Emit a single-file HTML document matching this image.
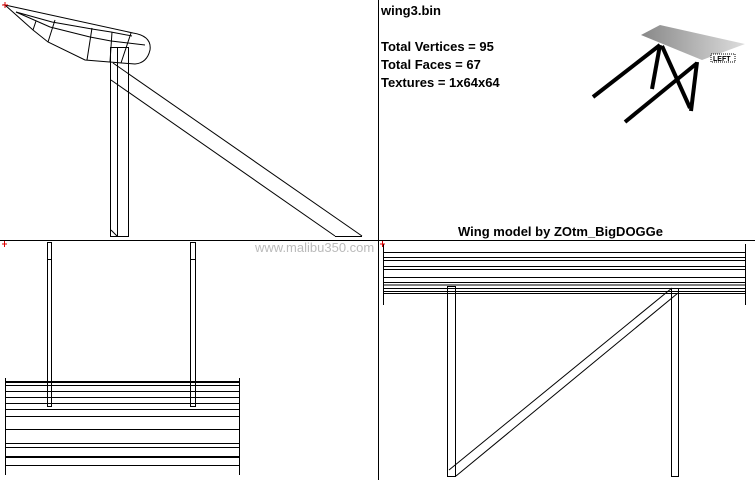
<!DOCTYPE html>
<html><head><meta charset="utf-8"><style>
html,body{margin:0;padding:0;background:#fff;width:755px;height:480px;overflow:hidden}
svg{display:block}
text{font-family:"Liberation Sans",sans-serif;font-weight:bold;fill:#000}
</style></head><body>
<svg width="755" height="480" viewBox="0 0 755 480" xmlns="http://www.w3.org/2000/svg">
<g stroke="#000" fill="none" stroke-width="1">
<line x1="378.5" y1="0" x2="378.5" y2="480"/>
<line x1="0" y1="240.5" x2="755" y2="240.5"/>
<path d="M5,5 L133,33 Q152,36 150,50 Q147,63 135,64 L85,60 L48,42 L33,30 Z"/>
<path d="M16,12 L52,22 L92,29 L111,32 L132,36"/>
<path d="M16,12 L50,27 L90,37 L111,41 L145,45"/>
<path d="M36,21 L33,30 M55,20 L48,42 M92,28 L87,60 M112,32 L110,62 M131,33 L121,63"/>
<rect x="110.5" y="47.5" width="18" height="189"/>
<line x1="117.5" y1="47" x2="117.5" y2="236"/>
<line x1="111" y1="230" x2="117" y2="236"/>
<line x1="113" y1="63" x2="362" y2="236"/>
<line x1="111" y1="80" x2="335" y2="236"/>
<line x1="335" y1="236.5" x2="362" y2="236.5"/>
<rect x="47.5" y="242.5" width="4" height="164"/>
<rect x="190.5" y="242.5" width="5" height="164"/>
<line x1="47" y1="259.5" x2="52" y2="259.5"/><line x1="190" y1="259.5" x2="196" y2="259.5"/>
<line x1="5.5" y1="378" x2="5.5" y2="475"/><line x1="239.5" y1="378" x2="239.5" y2="475"/>
<line x1="5" y1="382" x2="239" y2="382" stroke-width="2"/>
<line x1="5" y1="385.5" x2="239" y2="385.5"/>
<line x1="5" y1="391.5" x2="239" y2="391.5"/>
<line x1="5" y1="397.5" x2="239" y2="397.5"/>
<line x1="5" y1="403.5" x2="239" y2="403.5"/>
<line x1="5" y1="409.5" x2="239" y2="409.5"/>
<line x1="5" y1="416.5" x2="239" y2="416.5"/>
<line x1="5" y1="429.5" x2="239" y2="429.5"/>
<line x1="5" y1="443.5" x2="239" y2="443.5"/>
<line x1="5" y1="447.5" x2="239" y2="447.5"/>
<line x1="5" y1="457" x2="239" y2="457" stroke-width="2"/>
<line x1="5" y1="465.5" x2="239" y2="465.5"/>
<line x1="48" y1="403.5" x2="195" y2="403.5"/>
<line x1="383.5" y1="244" x2="383.5" y2="305"/><line x1="745.5" y1="244" x2="745.5" y2="305"/>
<line x1="383" y1="252.5" x2="745" y2="252.5"/>
<line x1="383" y1="257.5" x2="745" y2="257.5"/>
<line x1="383" y1="260.5" x2="745" y2="260.5"/>
<line x1="383" y1="266.5" x2="745" y2="266.5"/>
<line x1="383" y1="269.5" x2="745" y2="269.5"/>
<line x1="383" y1="277.5" x2="745" y2="277.5"/>
<line x1="383" y1="282.5" x2="745" y2="282.5"/>
<line x1="383" y1="285" x2="745" y2="285"/>
<line x1="383" y1="288.5" x2="745" y2="288.5"/>
<line x1="383" y1="291.5" x2="745" y2="291.5"/>
<line x1="383" y1="293.5" x2="745" y2="293.5"/>
<rect x="447.5" y="286.5" width="8" height="190"/>
<rect x="671.5" y="288.5" width="7" height="188"/>
<line x1="449" y1="470" x2="672" y2="288"/>
<line x1="456" y1="476" x2="678" y2="293"/>
</g>
<g stroke="#d00" stroke-width="1">
<path d="M2,5H8M5,2V8"/><path d="M2,244H7M4.5,241V247"/><path d="M380,244H385M382.5,241V247"/>
</g>
<defs><linearGradient id="g" x1="0" y1="0" x2="1" y2="0"><stop offset="0" stop-color="#888"/><stop offset="1" stop-color="#ddd"/></linearGradient></defs>
<polygon points="660,25 745,44 702,60 641,35" fill="url(#g)"/>
<rect x="711" y="54" width="24" height="8" fill="#fff" stroke="#000" stroke-dasharray="1,1"/>
<text x="713" y="61" font-size="7">LEFT</text>
<g stroke="#000" stroke-width="4" fill="none">
<line x1="660" y1="45" x2="593" y2="97"/>
<line x1="660" y1="45" x2="652" y2="89"/>
<line x1="662" y1="46" x2="690" y2="108"/>
<line x1="697" y1="62" x2="691" y2="111"/>
<line x1="696" y1="64" x2="625" y2="122"/>
</g>
<text x="381" y="15" font-size="13">wing3.bin</text>
<text x="381" y="51" font-size="13">Total Vertices = 95</text>
<text x="381" y="69" font-size="13">Total Faces = 67</text>
<text x="381" y="87" font-size="13">Textures = 1x64x64</text>
<text x="458" y="236" font-size="13">Wing model by ZOtm_BigDOGGe</text>
<text x="255" y="252" font-size="13" style="font-weight:normal;fill:#bbb">www.malibu350.com</text>
</svg>
</body></html>
